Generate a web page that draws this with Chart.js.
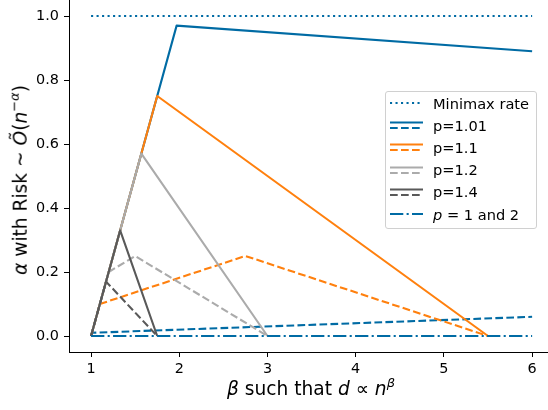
<!DOCTYPE html>
<html>
<head>
<meta charset="utf-8">
<script src="https://cdn.jsdelivr.net/npm/chart.js@4.4.0/dist/chart.umd.min.js"></script>
<style>
  html, body { margin: 0; padding: 0; background: #fff; }
  #wrap { position: relative; width: 548px; height: 410px; overflow: hidden; font-family: "DejaVu Sans", sans-serif; color: #000; }
  #chart { position: absolute; left: 0; top: 0; }
  .axis-title { position: absolute; font-size: 18.6px; white-space: nowrap; line-height: 1; }
  .axis-title sup { font-size: 70%; vertical-align: 0; position: relative; top: -0.6em; }
  #xtitle { left: 311px; top: 389px; transform: translate(-50%, -50%); }
  #ytitle { left: 21px; top: 180px; transform: translate(-50%, -50%) rotate(-90deg); }
  #legend { position: absolute; left: 385px; top: 91px; width: 150px; height: 136px; border: 1px solid #d0d0d0; border-radius: 3px; background: rgba(255,255,255,0.8); font-size: 14.6px; }
  .lg-row { position: absolute; left: 4px; height: 20px; display: flex; align-items: center; }
  .lg-row svg { width: 33px; height: 20px; margin-right: 10px; }
</style>
</head>
<body>
<div id="wrap">
  <canvas id="chart" width="548" height="410"></canvas>
  <div id="ytitle" class="axis-title"><i>α</i> with Risk ~ <i>Õ</i>(<i>n</i><sup>−<i>α</i></sup>)</div>
  <div id="xtitle" class="axis-title"><i>β</i> such that <i>d</i> ∝ <i>n</i><sup><i>β</i></sup></div>
  <div id="legend"></div>
</div>
<script>
// values
var minimaxBeta = [1, 6];
var minimaxAlpha = [1, 1];

var p101SolidBeta = [1, 1.97, 6];
var p101SolidAlpha = [0, 0.97, 0.89];
var p101DashBeta = [1, 1.01, 6];
var p101DashAlpha = [0, 0.01, 0.06];

var p11SolidBeta = [1, 1.75, 5.5];
var p11SolidAlpha = [0, 0.75, 0];
var p11DashBeta = [1, 1.1, 2.75, 5.5];
var p11DashAlpha = [0, 0.1, 0.25, 0];

var p12SolidBeta = [1, 1.57, 3];
var p12SolidAlpha = [0, 0.57, 0];
var p12DashBeta = [1, 1.2, 1.5, 3];
var p12DashAlpha = [0, 0.2, 0.25, 0];

var p14SolidBeta = [1, 1.33, 1.75];
var p14SolidAlpha = [0, 0.33, 0];
var p14DashBeta = [1, 1.17, 1.75];
var p14DashAlpha = [0, 0.17, 0];

var p1and2Beta = [1, 6];
var p1and2Alpha = [0, 0];

var xTicks = [1, 2, 3, 4, 5, 6];
var yTicks = [0, 0.2, 0.4, 0.6, 0.8, 1.0];

var BLUE = '#006BA4', ORANGE = '#FF800E', GRAY = '#ABABAB', DARK = '#595959';
var DOT = [2.1, 3.4], DASH = [7.7, 3.3], DASHDOT = [13.3, 3.3, 2.1, 3.3];

function line(xs, ys, color, dash) {
  return {
    data: xs.map(function (x, i) { return { x: x, y: ys[i] }; }),
    borderColor: color,
    backgroundColor: color,
    borderWidth: 2.1,
    borderDash: dash || [],
    borderCapStyle: 'butt',
    borderJoinStyle: 'round',
    pointRadius: 0,
    fill: false,
    tension: 0
  };
}

var datasets = [
  line(minimaxBeta, minimaxAlpha, BLUE, DOT),
  line(p101SolidBeta, p101SolidAlpha, BLUE),
  line(p101DashBeta, p101DashAlpha, BLUE, DASH),
  line(p11SolidBeta, p11SolidAlpha, ORANGE),
  line(p11DashBeta, p11DashAlpha, ORANGE, DASH),
  line(p12SolidBeta, p12SolidAlpha, GRAY),
  line(p12DashBeta, p12DashAlpha, GRAY, DASH),
  line(p14SolidBeta, p14SolidAlpha, DARK),
  line(p14DashBeta, p14DashAlpha, DARK, DASH),
  line(p1and2Beta, p1and2Alpha, BLUE, DASHDOT)
];
// matplotlib puts later lines on top
datasets.forEach(function (d, i) { d.order = datasets.length - i; });

new Chart(document.getElementById('chart'), {
  type: 'line',
  data: { datasets: datasets },
  options: {
    responsive: false,
    animation: false,
    layout: { padding: 0 },
    plugins: { legend: { display: false }, tooltip: { enabled: false } },
    scales: {
      x: {
        type: 'linear',
        min: 0.75,
        max: 6.18,
        afterBuildTicks: function (scale) { scale.ticks = xTicks.map(function (v) { return { value: v }; }); },
        afterFit: function (scale) { scale.height = 58; scale.paddingLeft = 0; scale.paddingRight = 0; },
        grid: { drawOnChartArea: false, color: '#000', tickLength: 5, tickWidth: 1 },
        border: { display: true, color: '#000', width: 1 },
        ticks: { color: '#000', padding: 4, maxRotation: 0, font: { family: 'DejaVu Sans', size: 14.4 } }
      },
      y: {
        type: 'linear',
        min: -0.05,
        max: 1.05,
        afterBuildTicks: function (scale) { scale.ticks = yTicks.map(function (v) { return { value: v }; }); },
        afterFit: function (scale) { scale.width = 69; scale.paddingTop = 0; scale.paddingBottom = 0; },
        grid: { drawOnChartArea: false, color: '#000', tickLength: 5, tickWidth: 1 },
        border: { display: true, color: '#000', width: 1 },
        ticks: {
          color: '#000', padding: 5, font: { family: 'DejaVu Sans', size: 14.4 },
          callback: function (v) { return v.toFixed(1); }
        }
      }
    }
  }
});

// legend: one row per label, combined solid + dashed samples
var legendRows = [
  { label: 'Minimax rate', color: BLUE, dashes: [DOT] },
  { label: 'p=1.01', color: BLUE, dashes: [[], DASH] },
  { label: 'p=1.1', color: ORANGE, dashes: [[], DASH] },
  { label: 'p=1.2', color: GRAY, dashes: [[], DASH] },
  { label: 'p=1.4', color: DARK, dashes: [[], DASH] },
  { label: '<i>p</i> = 1 and 2', color: BLUE, dashes: [DASHDOT] }
];

var lg = document.getElementById('legend');
legendRows.forEach(function (row, i) {
  var svg = '<svg viewBox="0 0 33 20">';
  var offs = row.dashes.length === 2 ? [7.5, 13] : [10];
  row.dashes.forEach(function (d, k) {
    svg += '<line x1="0" x2="33" y1="' + offs[k] + '" y2="' + offs[k] + '" stroke="' + row.color +
      '" stroke-width="2.1" stroke-dasharray="' + (d.length ? d.join(',') : 'none') + '"/>';
  });
  svg += '</svg>';
  var div = document.createElement('div');
  div.className = 'lg-row';
  div.style.top = (1 + i * 22.2) + 'px';
  div.innerHTML = svg + '<span>' + row.label + '</span>';
  lg.appendChild(div);
});
</script>
</body>
</html>
